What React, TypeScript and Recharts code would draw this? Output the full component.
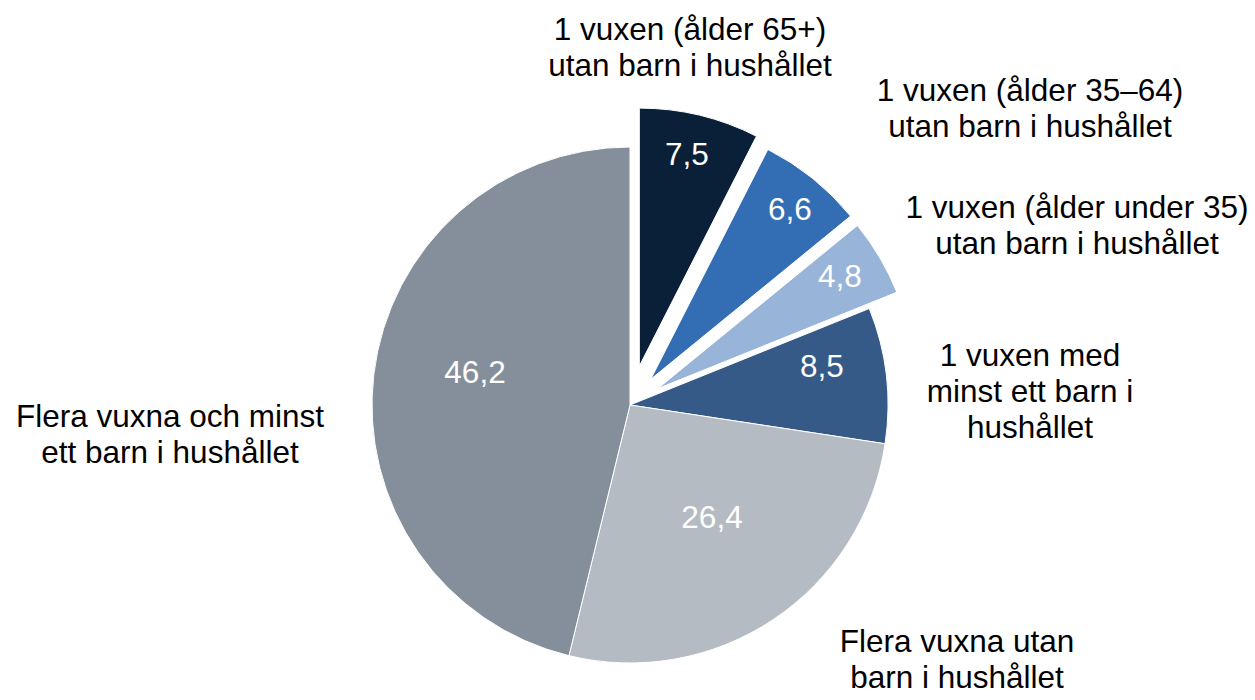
import { PieChart, Pie, Cell } from 'recharts';

const categories = [
  '1 vuxen (ålder 65+)\nutan barn i hushållet',
  '1 vuxen (ålder 35–64)\nutan barn i hushållet',
  '1 vuxen (ålder under 35)\nutan barn i hushållet',
  '1 vuxen med\nminst ett barn i\nhushållet',
  'Flera vuxna utan\nbarn i hushållet',
  'Flera vuxna och minst\nett barn i hushållet',
];
const shares = [7.5, 6.6, 4.8, 8.5, 26.4, 46.2];

const colors = ['#0a1f38', '#336db3', '#98b4d8', '#355a88', '#b4bbc3', '#848f9b'];
// how far each slice is pulled out from the centre, px
const explode = [40, 33, 32, 0, 0, 0];
// label anchors relative to the pie centre (x = text centre, y = first baseline)
const valuePos = [[57, -240], [160, -185], [210, -118], [192, -28], [82, 123], [-155, -22]];
const namePos = [[60, -365], [400, -304], [447, -187], [400, -39], [327, 247], [-460, 22]];

const CX = 630;
const CY = 405;
const R = 258;
const FONT = '"Liberation Sans", Arial, sans-serif';
const FS = 31.5;

const data = categories.map((name, i) => ({ name, value: shares[i] }));
const total = shares.reduce((a, b) => a + b, 0);

const midAngle = (i: number) => {
  const before = shares.slice(0, i).reduce((a, b) => a + b, 0);
  return ((before + shares[i] / 2) / total) * 2 * Math.PI;
};

const fmt = (v: number) => v.toFixed(1).replace('.', ',');

const renderLabel = (props: any) => {
  const i = props.index;
  const cx = props.cx ?? CX;
  const cy = props.cy ?? CY;
  const [vx, vy] = valuePos[i];
  const [nx, ny] = namePos[i];
  const lines = categories[i].split('\n');
  return (
    <g key={`lbl-${i}`}>
      <text x={cx + vx} y={cy + vy} textAnchor="middle" fill="#fff" fontSize={FS} fontFamily={FONT}>
        {fmt(shares[i])}
      </text>
      <text textAnchor="middle" fill="#000" fontSize={FS} fontFamily={FONT}>
        {lines.map((l, k) => (
          <tspan key={k} x={cx + nx} y={cy + ny + k * 36}>
            {l}
          </tspan>
        ))}
      </text>
    </g>
  );
};

const exploded = explode.map((d, i) => (d > 0 ? i : -1)).filter((i) => i >= 0);

const App = () => {
  return (
    <div style={{ position: 'absolute', left: 0, top: 0, width: 1255, height: 700, background: '#fff' }}>
      <PieChart width={1255} height={700} margin={{ top: 0, right: 0, bottom: 0, left: 0 }}>
        {exploded.map((k) => {
          const a = midAngle(k);
          return (
            <Pie
              key={`ex-${k}`}
              data={data}
              dataKey="value"
              nameKey="name"
              cx={CX + explode[k] * Math.sin(a)}
              cy={CY - explode[k] * Math.cos(a)}
              outerRadius={R}
              startAngle={90}
              endAngle={-270}
              labelLine={false}
              isAnimationActive={false}
            >
              {data.map((_, i) => (
                <Cell
                  key={i}
                  fill={i === k ? colors[i] : 'transparent'}
                  stroke={i === k ? '#fff' : 'none'}
                  strokeWidth={1}
                />
              ))}
            </Pie>
          );
        })}
        <Pie
          data={data}
          dataKey="value"
          nameKey="name"
          cx={CX}
          cy={CY}
          outerRadius={R}
          startAngle={90}
          endAngle={-270}
          labelLine={false}
          label={renderLabel}
          isAnimationActive={false}
        >
          {data.map((_, i) => (
            <Cell
              key={i}
              fill={explode[i] > 0 ? 'transparent' : colors[i]}
              stroke={explode[i] > 0 ? 'none' : '#fff'}
              strokeWidth={1}
            />
          ))}
        </Pie>
      </PieChart>
    </div>
  );
};

export default App;
